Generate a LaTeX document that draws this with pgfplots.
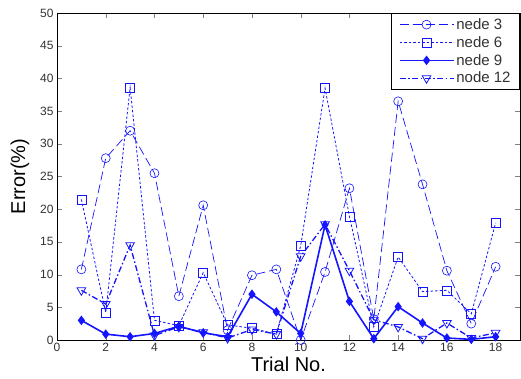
\documentclass[border=0pt]{standalone}
\usepackage{pgfplots}
\pgfplotsset{compat=1.18}
\usepackage{fontspec}
\setmainfont{Liberation Sans}
\definecolor{mblue}{RGB}{20,20,255}
\begin{document}
\begin{tikzpicture}
\useasboundingbox (0,0) rectangle (521pt,378pt);
\begin{axis}[
  at={(57pt,38pt)}, anchor=south west,
  scale only axis, width=463pt, height=327pt,
  xmin=0, xmax=19, ymin=0, ymax=50,
  xtick={0,2,...,18}, ytick={0,5,...,50},
  tick align=inside, major tick length=5pt,
  /pgf/number format/assume math mode=true,
  tick label style={font=\fontsize{12}{14}\selectfont, text=black!80},
  xlabel={Trial No.}, ylabel={Error(\%)},
  label style={font=\fontsize{20}{22}\selectfont},
  xlabel style={yshift=2pt},
  ylabel style={yshift=4pt},
  axis line style={black, line width=0.9pt},
  legend style={at={(rel axis cs:1,1)}, anchor=north east, draw=black, line width=0.9pt,
    font=\fontsize{15}{18}\selectfont, text=black!80, row sep=1.5pt, inner xsep=7pt, inner ysep=3pt},
  legend cell align=left,
  every axis plot post/.append style={legend image code/.code={\draw[mark repeat=2,mark phase=2] plot coordinates {(0pt,0pt)(27pt,0pt)(54pt,0pt)};}},
]
\addplot[mblue, line width=0.7pt, dash pattern=on 9pt off 4pt, mark=o, mark size=4.5pt, mark options={solid, line width=0.6pt}] coordinates {
(1,10.8)(2,27.8)(3,32)(4,25.5)(5,6.7)(6,20.6)(7,1.5)(8,9.9)(9,10.8)(10,0)(11,10.4)(12,23.2)(13,3.2)(14,36.5)(15,23.8)(16,10.6)(17,2.5)(18,11.2)};
\addlegendentry{nede 3}
\addplot[mblue, line width=0.8pt, dash pattern=on 2.5pt off 2pt, mark=square, mark size=4.5pt, mark options={solid, line width=0.6pt}] coordinates {
(1,21.5)(2,4.2)(3,38.6)(4,3.0)(5,2.2)(6,10.3)(7,2.3)(8,1.8)(9,0.9)(10,14.4)(11,38.5)(12,18.9)(13,2.0)(14,12.7)(15,7.4)(16,7.6)(17,4.0)(18,17.9)};
\addlegendentry{nede 6}
\addplot[mblue, line width=1.6pt, solid, mark=diamond*, mark size=3.5pt, mark options={solid}] coordinates {
(1,3.0)(2,0.9)(3,0.5)(4,1.0)(5,2.1)(6,1.1)(7,0.5)(8,7.0)(9,4.3)(10,1.0)(11,17.6)(12,5.9)(13,0.2)(14,5.1)(15,2.6)(16,0.3)(17,0.1)(18,0.5)};
\addlegendentry{nede 9}
\addplot[mblue, line width=1.3pt, dash pattern=on 6pt off 2.5pt on 1.5pt off 2.5pt, mark=triangle, mark size=5pt, mark options={solid, rotate=180, line width=0.8pt}] coordinates {
(1,7.6)(2,5.5)(3,14.5)(4,0.7)(5,2.0)(6,1.2)(7,0.3)(8,1.6)(9,0.9)(10,12.8)(11,17.7)(12,10.6)(13,3.1)(14,2.0)(15,0.2)(16,2.6)(17,0.3)(18,1.1)};
\addlegendentry{node 12}
\end{axis}
\end{tikzpicture}
\end{document}
